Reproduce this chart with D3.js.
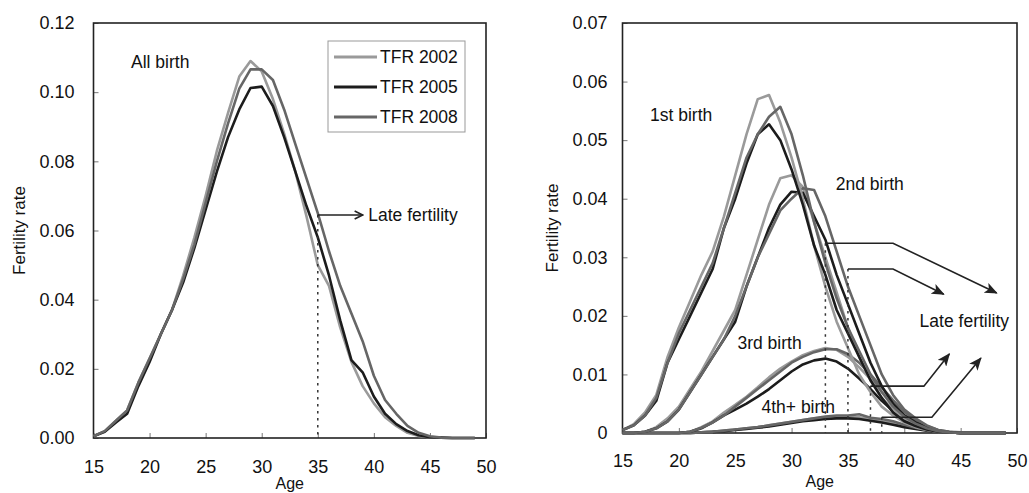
<!DOCTYPE html>
<html>
<head>
<meta charset="utf-8">
<script src="https://cdn.jsdelivr.net/npm/d3@7"></script>
<style>
  body { margin: 0; background: #fff; }
  svg { display: block; font-family: "Liberation Sans", Arial, sans-serif; }
</style>
</head>
<body>
<div id="chart"></div>
<script>
// ages 15..49
const ages = [15,16,17,18,19,20,21,22,23,24,25,26,27,28,29,30,31,32,33,34,35,36,37,38,39,40,41,42,43,44,45,46,47,48,49];
const years = ["TFR 2002", "TFR 2005", "TFR 2008"];
const xTicks = [15, 20, 25, 30, 35, 40, 45, 50];
const yTicksAll = [0, 0.02, 0.04, 0.06, 0.08, 0.10, 0.12];
const yTicksOrder = [0, 0.01, 0.02, 0.03, 0.04, 0.05, 0.06, 0.07];

// all births
const all2002 = [0.0005,0.002,0.005,0.008,0.016,0.023,0.030,0.037,0.047,0.058,0.070,0.083,0.094,0.1045,0.109,0.106,0.098,0.088,0.077,0.064,0.050,0.044,0.032,0.022,0.015,0.010,0.006,0.0035,0.0015,0.0006,0.0002,0.0001,0,0,0];
const all2005 = [0.0005,0.0018,0.0045,0.007,0.015,0.022,0.030,0.037,0.045,0.055,0.066,0.077,0.087,0.095,0.1012,0.1016,0.096,0.087,0.077,0.067,0.058,0.047,0.034,0.0225,0.019,0.012,0.007,0.004,0.002,0.0008,0.0002,0.0001,0,0,0];
const all2008 = [0.0005,0.002,0.005,0.008,0.016,0.023,0.030,0.037,0.046,0.056,0.068,0.080,0.091,0.101,0.1066,0.1066,0.1035,0.095,0.085,0.075,0.065,0.054,0.044,0.036,0.028,0.018,0.011,0.007,0.0035,0.0015,0.0005,0.0001,0,0,0];

// births by order
const first2002 = [0.0005,0.0015,0.0035,0.0065,0.013,0.018,0.0225,0.027,0.031,0.037,0.044,0.051,0.057,0.0577,0.053,0.047,0.040,0.032,0.025,0.019,0.0145,0.010,0.007,0.0045,0.003,0.0018,0.001,0.0005,0.0002,0.0001,0,0,0,0,0];
const first2005 = [0.0005,0.0013,0.003,0.0055,0.012,0.016,0.020,0.024,0.028,0.035,0.040,0.046,0.051,0.0527,0.050,0.045,0.039,0.032,0.027,0.021,0.017,0.013,0.009,0.006,0.0035,0.002,0.0012,0.0006,0.0002,0.0001,0,0,0,0,0];
const first2008 = [0.0005,0.0013,0.003,0.006,0.012,0.017,0.021,0.025,0.029,0.035,0.041,0.047,0.051,0.054,0.0557,0.051,0.044,0.036,0.029,0.023,0.018,0.014,0.010,0.007,0.0045,0.0028,0.0016,0.0008,0.0003,0.0001,0,0,0,0,0];

const second2002 = [0,0,0.0002,0.001,0.0025,0.0045,0.0075,0.0105,0.014,0.0175,0.021,0.027,0.033,0.039,0.0435,0.044,0.042,0.036,0.030,0.024,0.018,0.013,0.009,0.006,0.004,0.0025,0.0015,0.0008,0.0003,0.0001,0,0,0,0,0];
const second2005 = [0,0,0.0002,0.0008,0.002,0.004,0.007,0.010,0.013,0.016,0.019,0.025,0.030,0.035,0.039,0.0412,0.041,0.037,0.033,0.027,0.022,0.017,0.012,0.008,0.005,0.003,0.0018,0.001,0.0004,0.0001,0,0,0,0,0];
const second2008 = [0,0,0.0002,0.0008,0.002,0.004,0.007,0.010,0.013,0.016,0.020,0.025,0.030,0.034,0.038,0.040,0.0418,0.0415,0.037,0.031,0.025,0.020,0.015,0.010,0.0065,0.004,0.0025,0.0013,0.0005,0.0002,0.0001,0,0,0,0];

const third2002 = [0,0,0,0,0,0,0.0002,0.001,0.002,0.0035,0.0048,0.0062,0.0078,0.0095,0.011,0.0122,0.0133,0.014,0.0145,0.0142,0.013,0.0112,0.0092,0.007,0.005,0.003,0.0018,0.001,0.0004,0.0001,0,0,0,0,0];
const third2005 = [0,0,0,0,0,0,0.0002,0.0008,0.0018,0.003,0.004,0.005,0.0062,0.0075,0.009,0.0105,0.0117,0.0124,0.0127,0.0122,0.011,0.0093,0.0075,0.0055,0.0038,0.0024,0.0014,0.0007,0.0003,0.0001,0,0,0,0,0];
const third2008 = [0,0,0,0,0,0,0.0002,0.0009,0.0018,0.003,0.0045,0.006,0.0075,0.009,0.0105,0.012,0.013,0.0138,0.0143,0.0143,0.0135,0.012,0.010,0.0078,0.0056,0.0036,0.0022,0.0012,0.0005,0.0002,0,0,0,0,0];

const fourth2002 = [0,0,0,0,0,0,0,0.0001,0.0002,0.0004,0.0006,0.0008,0.001,0.0013,0.0016,0.0019,0.0022,0.0025,0.0027,0.0028,0.0028,0.0027,0.0024,0.002,0.0016,0.0012,0.0008,0.0005,0.0002,0.0001,0,0,0,0,0];
const fourth2005 = [0,0,0,0,0,0,0,0.0001,0.0002,0.0003,0.0005,0.0007,0.0009,0.0011,0.0014,0.0017,0.002,0.0022,0.0024,0.0025,0.0025,0.0024,0.0021,0.0018,0.0014,0.001,0.0007,0.0004,0.0002,0.0001,0,0,0,0,0];
const fourth2008 = [0,0,0,0,0,0,0,0.0001,0.0002,0.0004,0.0006,0.0008,0.001,0.0013,0.0016,0.0019,0.0022,0.0025,0.0028,0.003,0.003,0.0032,0.0026,0.0024,0.002,0.0014,0.0009,0.0005,0.0002,0.0001,0,0,0,0,0];

const COLORS = ["#9a9a9a", "#1c1c1c", "#666666"];

const svg = d3.select("#chart")
    .append("svg")
    .attr("width", 1029)
    .attr("height", 493);

const defs = svg.append("defs");
defs.append("marker")
    .attr("id", "openArrow")
    .attr("viewBox", "0 0 10 10")
    .attr("refX", 9).attr("refY", 5)
    .attr("markerWidth", 10).attr("markerHeight", 10)
    .attr("markerUnits", "userSpaceOnUse")
    .attr("orient", "auto")
    .append("path")
    .attr("d", "M1,1 L9,5 L1,9")
    .attr("fill", "none")
    .attr("stroke", "#222")
    .attr("stroke-width", 1.6);
defs.append("marker")
    .attr("id", "solidArrow")
    .attr("viewBox", "0 0 12 10")
    .attr("refX", 11).attr("refY", 5)
    .attr("markerWidth", 13).attr("markerHeight", 11)
    .attr("markerUnits", "userSpaceOnUse")
    .attr("orient", "auto")
    .append("path")
    .attr("d", "M0,0 L12,5 L0,10 L3,5 Z")
    .attr("fill", "#222");

function drawPanel(opt) {
    const { x, y, yTicks, yFormat, xPad, yPad } = opt;
    const g = svg.append("g");

    g.append("g")
        .attr("transform", `translate(0,${y(0)})`)
        .call(d3.axisBottom(x).tickValues(xTicks).tickSizeInner(-5).tickSizeOuter(0).tickPadding(xPad))
        .call(a => a.select(".domain").remove())
        .call(a => a.selectAll("line").attr("stroke", "#777"))
        .call(a => a.selectAll("text").attr("font-size", 18).attr("fill", "#111").attr("font-family", null));

    g.append("g")
        .attr("transform", `translate(${x(15)},0)`)
        .call(d3.axisLeft(y).tickValues(yTicks).tickFormat(yFormat).tickSizeInner(-5).tickSizeOuter(0).tickPadding(yPad))
        .call(a => a.select(".domain").remove())
        .call(a => a.selectAll("line").attr("stroke", "#777"))
        .call(a => a.selectAll("text").attr("font-size", 18).attr("fill", "#111").attr("font-family", null));

    g.append("rect")
        .attr("x", x(15))
        .attr("y", y(yTicks[yTicks.length - 1]))
        .attr("width", x(50) - x(15))
        .attr("height", y(0) - y(yTicks[yTicks.length - 1]))
        .attr("fill", "none")
        .attr("stroke", "#222")
        .attr("stroke-width", 1.6);

    g.append("text")
        .attr("x", (x(15) + x(50)) / 2)
        .attr("y", opt.ageY)
        .attr("text-anchor", "middle")
        .attr("font-size", 16)
        .attr("fill", "#111")
        .text("Age");

    g.append("text")
        .attr("transform", `translate(${opt.titleX},${(y(0) + y(yTicks[yTicks.length - 1])) / 2}) rotate(-90)`)
        .attr("text-anchor", "middle")
        .attr("font-size", 17)
        .attr("fill", "#111")
        .text("Fertility rate");

    const line = d3.line()
        .x((d, i) => x(ages[i]))
        .y(d => y(d));

    opt.series.forEach(group => {
        group.forEach((values, k) => {
            g.append("path")
                .datum(values)
                .attr("d", line)
                .attr("fill", "none")
                .attr("stroke", COLORS[k])
                .attr("stroke-width", 2.6)
                .attr("stroke-linejoin", "round");
        });
    });
    return g;
}

// ---- left: all births ----
const xL = d3.scaleLinear().domain([15, 50]).range([93.5, 486]);
const yL = d3.scaleLinear().domain([0, 0.12]).range([438, 23]);
const left = drawPanel({
    x: xL, y: yL, yTicks: yTicksAll, yFormat: d3.format(".2f"),
    xPad: 22, yPad: 19, ageY: 489, titleX: 25,
    series: [[all2002, all2005, all2008]]
});

const cutAll = 35, levelAll = 0.0645;
left.append("line")
    .attr("x1", xL(cutAll)).attr("x2", xL(cutAll))
    .attr("y1", yL(levelAll)).attr("y2", yL(0))
    .attr("stroke", "#333").attr("stroke-width", 1.5)
    .attr("stroke-dasharray", "2.5 4.5");
left.append("line")
    .attr("x1", xL(cutAll)).attr("x2", xL(39))
    .attr("y1", yL(levelAll)).attr("y2", yL(levelAll))
    .attr("stroke", "#222").attr("stroke-width", 1.6)
    .attr("marker-end", "url(#openArrow)");
left.append("text")
    .attr("x", xL(39.5)).attr("y", yL(levelAll)).attr("dy", "0.35em")
    .attr("font-size", 17.5).attr("fill", "#111")
    .text("Late fertility");
left.append("text")
    .attr("x", xL(18.35)).attr("y", yL(0.1069))
    .attr("font-size", 17.5).attr("fill", "#111")
    .text("All birth");

// legend
const legend = left.append("g").attr("transform", "translate(328,41)");
legend.append("rect")
    .attr("width", 137).attr("height", 91)
    .attr("fill", "#fff").attr("stroke", "#999").attr("stroke-width", 1);
years.forEach((name, k) => {
    legend.append("line")
        .attr("x1", 6).attr("x2", 49)
        .attr("y1", 16 + k * 30).attr("y2", 16 + k * 30)
        .attr("stroke", COLORS[k]).attr("stroke-width", 2.8);
    legend.append("text")
        .attr("x", 52).attr("y", 16 + k * 30).attr("dy", "0.36em")
        .attr("font-size", 17.5).attr("fill", "#111")
        .text(name);
});

// ---- right: births by order ----
const xR = d3.scaleLinear().domain([15, 50]).range([622.5, 1017]);
const yR = d3.scaleLinear().domain([0, 0.07]).range([433, 23]);
const right = drawPanel({
    x: xR, y: yR, yTicks: yTicksOrder, yFormat: d => d === 0 ? "0" : d3.format(".2f")(d),
    xPad: 21, yPad: 15, ageY: 487, titleX: 558,
    series: [
        [fourth2002, fourth2005, fourth2008],
        [third2002, third2005, third2008],
        [second2002, second2005, second2008],
        [first2002, first2005, first2008]
    ]
});

const cutAges = [33, 35, 37, 38];
const cutLevels = [0.0324, 0.028, 0.008, 0.0027];
const elbowAges = [39, 39, 41.74, 42.45];
const tipPoints = [[48.2, 0.0239], [43.5, 0.0237], [44.0, 0.0135], [46.8, 0.0128]];

cutAges.forEach((a, i) => {
    right.append("line")
        .attr("x1", xR(a)).attr("x2", xR(a))
        .attr("y1", yR(cutLevels[i])).attr("y2", yR(0))
        .attr("stroke", "#333").attr("stroke-width", 1.5)
        .attr("stroke-dasharray", "2.5 4.5");
    right.append("path")
        .attr("d", d3.line()([
            [xR(a), yR(cutLevels[i])],
            [xR(elbowAges[i]), yR(cutLevels[i])],
            [xR(tipPoints[i][0]), yR(tipPoints[i][1])]
        ]))
        .attr("fill", "none")
        .attr("stroke", "#222").attr("stroke-width", 1.6)
        .attr("marker-end", "url(#solidArrow)");
});

const orderLabels = [
    { text: "1st birth", age: 17.44, v: 0.0533 },
    { text: "2nd birth", age: 33.92, v: 0.0415 },
    { text: "3rd birth", age: 25.2, v: 0.01426 },
    { text: "4th+ birth", age: 27.33, v: 0.0035 },
    { text: "Late fertility", age: 41.36, v: 0.0181 }
];
right.selectAll("text.lbl")
    .data(orderLabels)
    .enter()
    .append("text")
    .attr("class", "lbl")
    .attr("x", d => xR(d.age))
    .attr("y", d => yR(d.v))
    .attr("font-size", 17.5)
    .attr("fill", "#111")
    .text(d => d.text);
</script>
</body>
</html>
